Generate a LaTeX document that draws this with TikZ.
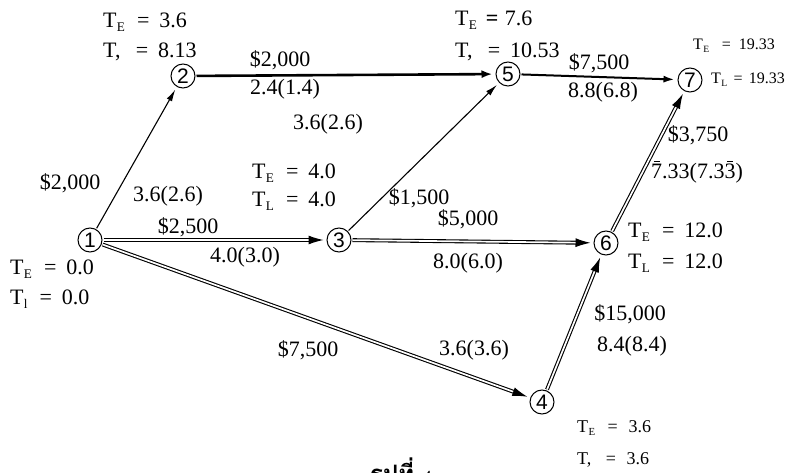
\documentclass[tikz,border=0pt]{standalone}
\usepackage{fontspec}
\setmainfont{Liberation Serif}
\newfontfamily\circfont{Liberation Sans}
\newfontfamily\thaifont[Script=Thai]{Loma}
\usetikzlibrary{arrows.meta}
\newcommand\Tsub[1]{T\kern0.3pt\raisebox{-0.45ex}{\fontsize{0.6em}{0.6em}\selectfont #1}}
\newcommand\Tl[2]{\Tsub{#1}\hspace{0.55em}=\hspace{0.45em}#2}
\newcommand\Tc[1]{T,\hspace{0.7em}=\hspace{0.45em}#1}
\newcommand\ovl[1]{\leavevmode\rlap{\raisebox{0.78em}{\kern0.12em\rule{0.28em}{0.6pt}}}#1}
\tikzset{
  ev/.style={circle,draw,line width=1pt,minimum size=24pt,inner sep=0pt,
    font=\circfont\fontsize{21}{21}\selectfont},
  lab/.style={inner sep=0pt,font=\fontsize{22}{22}\selectfont},
  tlab/.style={inner sep=0pt,anchor=west,font=\fontsize{22}{22}\selectfont},
  slab/.style={inner sep=0pt,anchor=west,font=\fontsize{16}{16}\selectfont},
  thinarr/.style={line width=1.1pt,shorten >=3pt,shorten <=1pt,-{Latex[length=12pt,width=6pt]}},
  thickarr/.style={line width=2.6pt,shorten >=3pt,shorten <=1pt,-{Latex[length=11pt,width=8pt]}},
  medarr/.style={line width=2pt,shorten >=3pt,shorten <=1pt,-{Latex[length=11pt,width=7pt]}},
  dblarr/.style={double,line width=1.1pt,double distance=1.7pt,shorten >=3pt,shorten <=1pt,
    -{Latex[length=15pt,width=9pt]}},
}
\begin{document}
\begin{tikzpicture}[x=1pt,y=-1pt]
\useasboundingbox (0,0) rectangle (801,473);
% events
\node[ev] (n1) at (90,240) {1};
\node[ev] (n2) at (183,76) {2};
\node[ev] (n3) at (339,240) {3};
\node[ev] (n4) at (542,402) {4};
\node[ev] (n5) at (508,74) {5};
\node[ev] (n6) at (606,243) {6};
\node[ev] (n7) at (690,80) {7};
% activities
\draw[thinarr] (n1) -- (n2);
\draw[thickarr] (n2) -- (n5);
\draw[dblarr] (n1) -- (n3);
\draw[dblarr] (n1) -- (n4);
\draw[thinarr] (n3) -- (n5);
\draw[medarr] (n5) -- (n7);
\draw[dblarr] (n3) -- (n6);
\draw[dblarr] (n4) -- (n6);
\draw[dblarr] (n6) -- (n7);
% activity labels
\node[lab] (c12) at (70,183) {\$2,000};
\node[lab] (d12) at (168,196) {3.6(2.6)};
\node[lab] (c25) at (280,60) {\$2,000};
\node[lab] (d25) at (285,89) {2.4(1.4)};
\node[lab] (c13) at (188,227) {\$2,500};
\node[lab] (d13) at (245,257) {4.0(3.0)};
\node[lab] (c14) at (308,350) {\$7,500};
\node[lab] (d14) at (474,350) {3.6(3.6)};
\node[lab] (d35) at (328,124) {3.6(2.6)};
\node[lab] (c35) at (419,198) {\$1,500};
\node[lab] (c57) at (599,63) {\$7,500};
\node[lab] (d57) at (603,92) {8.8(6.8)};
\node[lab] (c36) at (468,219) {\$5,000};
\node[lab] (d36) at (468,263) {8.0(6.0)};
\node[lab] (c46) at (630,314) {\$15,000};
\node[lab] (d46) at (632,346) {8.4(8.4)};
\node[lab] (c67) at (698,135) {\$3,750};
\node[lab] (d67) at (697,172) {\ovl{7}.33(7.3\ovl{3})};
% event times
\node[tlab] (e2a) at (103,22) {\Tl{E}{3.6}};
\node[tlab] (e2b) at (103,52) {\Tc{8.13}};
\node[tlab] (e5a) at (455,20) {\Tsub{E}\hspace{0.4em}\textbf{=}\hspace{0.3em}7.6};
\node[tlab] (e5b) at (455,52) {\Tc{10.53}};
\node[slab] (e7a) at (693,46) {\Tsub{E}\hspace{0.8em}=\hspace{0.5em}19.33};
\node[slab] (e7b) at (711,80) {\Tsub{L}\hspace{0.4em}=\hspace{0.4em}19.33};
\node[tlab] (e3a) at (252,173) {\Tl{E}{4.0}};
\node[tlab] (e3b) at (252,201) {\Tl{L}{4.0}};
\node[tlab] (e1a) at (10,269) {\Tl{E}{0.0}};
\node[tlab] (e1b) at (10,299) {\Tl{l}{0.0}};
\node[tlab] (e6a) at (628,232) {\Tl{E}{12.0}};
\node[tlab] (e6b) at (628,263) {\Tl{L}{12.0}};
\node[slab,font=\fontsize{18}{18}\selectfont] (e4a) at (577,428) {\Tsub{E}\hspace{0.7em}=\hspace{0.6em}3.6};
\node[slab,font=\fontsize{18}{18}\selectfont] (e4b) at (577,460) {T,\hspace{0.8em}=\hspace{0.6em}3.6};
% caption (cut off at the bottom edge, as in the reference)
\begin{scope}
\clip (0,0) rectangle (801,473);
\node[inner sep=0pt,anchor=base west] (cap) at (370,482)
  {{\thaifont\bfseries\fontsize{24}{24}\selectfont รูปที่}\hspace{9pt}{\fontsize{17}{17}\selectfont 4}};
\end{scope}
\end{tikzpicture}
\end{document}
